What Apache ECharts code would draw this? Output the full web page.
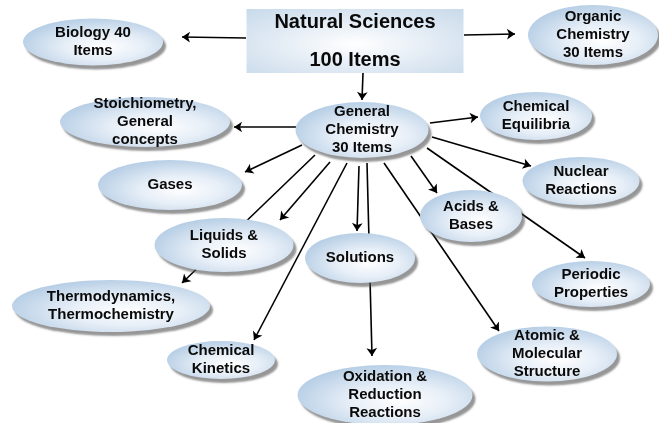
<!DOCTYPE html>
<html>
<head>
<meta charset="utf-8">
<script src="https://cdn.jsdelivr.net/npm/echarts@6/dist/echarts.min.js"></script>
<style>
  html, body { margin: 0; padding: 0; background: #fff; }
  #chart { width: 659px; height: 423px; }
</style>
</head>
<body>
<div id="chart"></div>
<script>
// topic labels
const topics = [
  'Natural Sciences\n100 Items',
  'Biology 40\nItems',
  'Organic\nChemistry\n30 Items',
  'Stoichiometry,\nGeneral\nconcepts',
  'General\nChemistry\n30 Items',
  'Chemical\nEquilibria',
  'Gases',
  'Nuclear\nReactions',
  'Acids &\nBases',
  'Liquids &\nSolids',
  'Solutions',
  'Periodic\nProperties',
  'Thermodynamics,\nThermochemistry',
  'Chemical\nKinetics',
  'Atomic &\nMolecular\nStructure',
  'Oxidation &\nReduction\nReactions'
]

// where each topic sits on the page (centre x, centre y)
const layout = [
  [355, 41], [93, 42], [593, 35], [145, 122], [362, 130], [536, 116],
  [170, 185], [581, 181], [471, 216], [224, 245], [360, 258], [591, 284],
  [111, 306], [221, 360], [547, 354], [385, 395]
]

// bubble sizes (w, h)
const sizes = [
  [217, 64], [140, 47], [130, 60], [170, 50], [133, 56], [112, 48],
  [144, 50], [117, 48], [102, 52], [139, 54], [110, 50], [118, 46],
  [198, 52], [108, 38], [140, 55], [175, 60]
]

// arrows: start point -> tip
const arrows = [
  [[246, 38], [182, 37]],
  [[464, 35], [515, 34]],
  [[363, 73], [362, 100]],
  [[296, 127], [234, 127]],
  [[302, 145], [245, 172]],
  [[430, 123], [478, 117]],
  [[432, 137], [531, 166]],
  [[427, 148], [585, 258]],
  [[411, 156], [437, 193]],
  [[384, 163], [499, 331]],
  [[359, 166], [357, 231]],
  [[367, 163], [372, 356]],
  [[330, 162], [280, 220]],
  [[315, 155], [182, 283]],
  [[347, 163], [254, 340]]
]

const chart = echarts.init(document.getElementById('chart'))

const ellipseFill = () => new echarts.graphic.RadialGradient(0.58, 0.6, 0.95, [
  { offset: 0, color: '#ffffff' },
  { offset: 0.3, color: '#e6eef7' },
  { offset: 1, color: '#88afd4' }
])

const nodes = topics.map((name, i) => {
  const isRoot = i === 0
  return {
    name: name,
    value: layout[i],
    symbol: isRoot ? 'rect' : 'circle',
    symbolSize: sizes[i],
    itemStyle: isRoot ? {
      color: new echarts.graphic.RadialGradient(0.5, 0.55, 1.3, [
        { offset: 0, color: '#ffffff' },
        { offset: 0.35, color: '#dce7f2' },
        { offset: 1, color: '#a1c0da' }
      ])
    } : {
      color: ellipseFill(),
      shadowColor: 'rgba(80,80,80,0.6)',
      shadowBlur: 2,
      shadowOffsetX: 3,
      shadowOffsetY: 4
    },
    label: isRoot ? { fontSize: 20, lineHeight: 38 } : {}
  }
})

chart.setOption({
  animation: false,
  grid: { left: 0, right: 0, top: 0, bottom: 0 },
  xAxis: { type: 'value', min: 0, max: 659, show: false },
  yAxis: { type: 'value', min: 0, max: 423, inverse: true, show: false },
  series: [
    {
      type: 'lines',
      coordinateSystem: 'cartesian2d',
      z: 1,
      symbol: ['none', 'arrow'],
      symbolSize: [5, 8],
      lineStyle: { color: '#000', width: 1.6, opacity: 1 },
      data: arrows.map(a => ({ coords: a }))
    },
    {
      type: 'graph',
      coordinateSystem: 'cartesian2d',
      layout: 'none',
      z: 3,
      label: {
        show: true,
        position: 'inside',
        color: '#0a0a0a',
        fontFamily: 'Liberation Sans',
        fontWeight: 'bold',
        fontSize: 15,
        lineHeight: 18
      },
      data: nodes,
      links: []
    }
  ]
})
</script>
</body>
</html>
